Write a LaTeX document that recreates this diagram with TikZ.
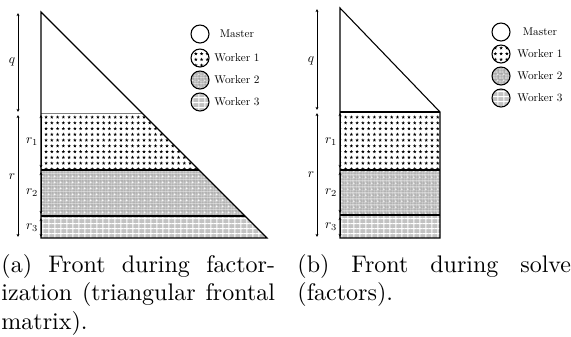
\documentclass[tikz,border=0pt]{standalone}
\usetikzlibrary{patterns,arrows.meta}
\pgfdeclarepatternformonly{wstars}{\pgfqpoint{-1.2pt}{-1.2pt}}{\pgfqpoint{1.2pt}{1.2pt}}{\pgfqpoint{2.4pt}{2.4pt}}{%
  \pgfpathmoveto{\pgfqpoint{0pt}{0.78pt}}%
  \pgfpathlineto{\pgfqpoint{-0.183pt}{0.253pt}}%
  \pgfpathlineto{\pgfqpoint{-0.742pt}{0.241pt}}%
  \pgfpathlineto{\pgfqpoint{-0.296pt}{-0.097pt}}%
  \pgfpathlineto{\pgfqpoint{-0.458pt}{-0.631pt}}%
  \pgfpathlineto{\pgfqpoint{0pt}{-0.312pt}}%
  \pgfpathlineto{\pgfqpoint{0.458pt}{-0.631pt}}%
  \pgfpathlineto{\pgfqpoint{0.296pt}{-0.097pt}}%
  \pgfpathlineto{\pgfqpoint{0.742pt}{0.241pt}}%
  \pgfpathlineto{\pgfqpoint{0.183pt}{0.253pt}}%
  \pgfpathclose\pgfusepath{fill}}
\pgfdeclarepatterninherentlycolored{wtwo}{\pgfqpoint{0pt}{0pt}}{\pgfqpoint{2.4pt}{2.4pt}}{\pgfqpoint{2.4pt}{2.4pt}}{%
  \pgfsetfillcolor{black!10}%
  \pgfpathrectangle{\pgfpointorigin}{\pgfqpoint{2.4pt}{2.4pt}}\pgfusepath{fill}%
  \pgfsetstrokecolor{black!40}\pgfsetlinewidth{0.14pt}%
  \pgfpathmoveto{\pgfqpoint{0.3pt}{0pt}}\pgfpathlineto{\pgfqpoint{0.3pt}{2.4pt}}%
  \pgfpathmoveto{\pgfqpoint{0.9pt}{0pt}}\pgfpathlineto{\pgfqpoint{0.9pt}{2.4pt}}%
  \pgfpathmoveto{\pgfqpoint{1.5pt}{0pt}}\pgfpathlineto{\pgfqpoint{1.5pt}{2.4pt}}%
  \pgfpathmoveto{\pgfqpoint{2.1pt}{0pt}}\pgfpathlineto{\pgfqpoint{2.1pt}{2.4pt}}%
  \pgfpathmoveto{\pgfqpoint{0pt}{0.3pt}}\pgfpathlineto{\pgfqpoint{2.4pt}{0.3pt}}%
  \pgfpathmoveto{\pgfqpoint{0pt}{0.9pt}}\pgfpathlineto{\pgfqpoint{2.4pt}{0.9pt}}%
  \pgfpathmoveto{\pgfqpoint{0pt}{1.5pt}}\pgfpathlineto{\pgfqpoint{2.4pt}{1.5pt}}%
  \pgfpathmoveto{\pgfqpoint{0pt}{2.1pt}}\pgfpathlineto{\pgfqpoint{2.4pt}{2.1pt}}%
  \pgfusepath{stroke}%
  \pgfsetfillcolor{white}%
  \pgfpathcircle{\pgfqpoint{1.2pt}{1.2pt}}{0.35pt}\pgfusepath{fill}}
\pgfdeclarepatterninherentlycolored{wthree}{\pgfqpoint{0pt}{0pt}}{\pgfqpoint{2.4pt}{2.2pt}}{\pgfqpoint{2.4pt}{2.2pt}}{%
  \pgfsetfillcolor{black!24}%
  \pgfpathrectangle{\pgfpointorigin}{\pgfqpoint{2.4pt}{2.2pt}}\pgfusepath{fill}%
  \pgfsetstrokecolor{white}\pgfsetlinewidth{0.45pt}%
  \pgfpathmoveto{\pgfqpoint{1.2pt}{0pt}}\pgfpathlineto{\pgfqpoint{1.2pt}{2.2pt}}%
  \pgfpathmoveto{\pgfqpoint{0pt}{1.1pt}}\pgfpathlineto{\pgfqpoint{2.4pt}{1.1pt}}%
  \pgfusepath{stroke}}
\begin{document}
\begin{tikzpicture}[x=0.41667pt,y=-0.41667pt,
  edge/.style={line width=0.45pt},
  dim/.style={line width=0.4pt,{Stealth[length=1.3pt,width=1.2pt]}-{Stealth[length=1.3pt,width=1.2pt]}},
  lab/.style={font=\fontsize{10}{12}\selectfont, scale=0.55, inner sep=0},
  legc/.style={circle, draw, line width=0.45pt, minimum size=7.5pt, inner sep=0},
  legt/.style={font=\fontsize{10}{12}\selectfont, scale=0.47, inner sep=0},
  captext/.style={anchor=base west, text width=114pt, align=justify, inner sep=0, font=\fontsize{10}{12}\selectfont}]
\useasboundingbox (0,0) rectangle (571,336);
% ---------- (a) ----------
\coordinate (aA) at (41,12);
\coordinate (aB) at (267,238);
\coordinate (aC) at (41,238);
\fill[pattern=wstars] (41,113.5) -- (142.5,113.5) -- (199,170) -- (41,170) -- cycle;
\fill[pattern=wtwo] (41,170) -- (199,170) -- (245,216) -- (41,216) -- cycle;
\fill[pattern=wthree] (41,216) -- (245,216) -- (267,238) -- (41,238) -- cycle;
\draw[gray, line width=0.8pt] (41,113.5) -- (142.5,113.5);
\draw[edge] (41,170) -- (199,170);
\draw[edge] (41,216) -- (245,216);
\draw[edge] (aA) -- (aB) -- (aC) -- cycle;
\coordinate (aq1) at (18,13); \coordinate (aq2) at (18,112);
\coordinate (ar1) at (18,115); \coordinate (ar2) at (18,237);
\draw[dim] (aq1) -- (aq2);
\draw[dim] (ar1) -- (ar2);
\coordinate (a11) at (41,115); \coordinate (a12) at (41,168);
\coordinate (a21) at (41,172); \coordinate (a22) at (41,214);
\coordinate (a31) at (41,218); \coordinate (a32) at (41,237);
\draw[dim] (a11) -- (a12);
\draw[dim] (a21) -- (a22);
\draw[dim] (a31) -- (a32);
\node[lab] (aq) at (12,62) {$q$};
\node[lab] (ar) at (12,177) {$r$};
\node[lab] (ar1l) at (32,142) {$r_1$};
\node[lab] (ar2l) at (32,193) {$r_2$};
\node[lab] (ar3l) at (32,228) {$r_3$};
% legend (a)
\node[legc] (lam) at (200,34) {};
\node[legc, pattern=wstars] (la1) at (200,58) {};
\node[legc, pattern=wtwo] (la2) at (200,80) {};
\node[legc, pattern=wthree] (la3) at (200,102) {};
\node[legt] (lamt) at (237,34) {Master};
\node[legt] (la1t) at (237,58) {Worker 1};
\node[legt] (la2t) at (237,80) {Worker 2};
\node[legt] (la3t) at (237,102) {Worker 3};
% ---------- (b) ----------
\coordinate (bA) at (340,8);
\coordinate (bB) at (440,112);
\coordinate (bC) at (440,238);
\coordinate (bD) at (340,238);
\fill[pattern=wstars] (340,112) rectangle (440,170);
\fill[pattern=wtwo] (340,170) rectangle (440,215);
\fill[pattern=wthree] (340,215) rectangle (440,238);
\draw[edge] (340,112) -- (440,112);
\draw[edge] (340,170) -- (440,170);
\draw[edge] (340,215) -- (440,215);
\draw[edge] (bA) -- (bB) -- (bC) -- (bD) -- cycle;
\coordinate (bq1) at (317,9); \coordinate (bq2) at (317,110);
\coordinate (br1) at (317,113); \coordinate (br2) at (317,237);
\draw[dim] (bq1) -- (bq2);
\draw[dim] (br1) -- (br2);
\coordinate (b11) at (340,113); \coordinate (b12) at (340,168);
\coordinate (b21) at (340,172); \coordinate (b22) at (340,213);
\coordinate (b31) at (340,217); \coordinate (b32) at (340,237);
\draw[dim] (b11) -- (b12);
\draw[dim] (b21) -- (b22);
\draw[dim] (b31) -- (b32);
\node[lab] (bq) at (311,61) {$q$};
\node[lab] (br) at (311,175) {$r$};
\node[lab] (br1l) at (331,142) {$r_1$};
\node[lab] (br2l) at (331,193) {$r_2$};
\node[lab] (br3l) at (331,227) {$r_3$};
% legend (b)
\node[legc] (lbm) at (501,32) {};
\node[legc, pattern=wstars] (lb1) at (501,54) {};
\node[legc, pattern=wtwo] (lb2) at (501,76) {};
\node[legc, pattern=wthree] (lb3) at (501,98) {};
\node[legt] (lbmt) at (540,32) {Master};
\node[legt] (lb1t) at (540,54) {Worker 1};
\node[legt] (lb2t) at (540,76) {Worker 2};
\node[legt] (lb3t) at (540,98) {Worker 3};
% ---------- captions ----------
\node[captext] (capa) at (1,272) {(a) Front during factor-\linebreak ization (triangular frontal\linebreak matrix).};
\node[captext] (capb) at (297,272) {\sloppy (b) Front during solve\linebreak (factors).};
\end{tikzpicture}
\end{document}
